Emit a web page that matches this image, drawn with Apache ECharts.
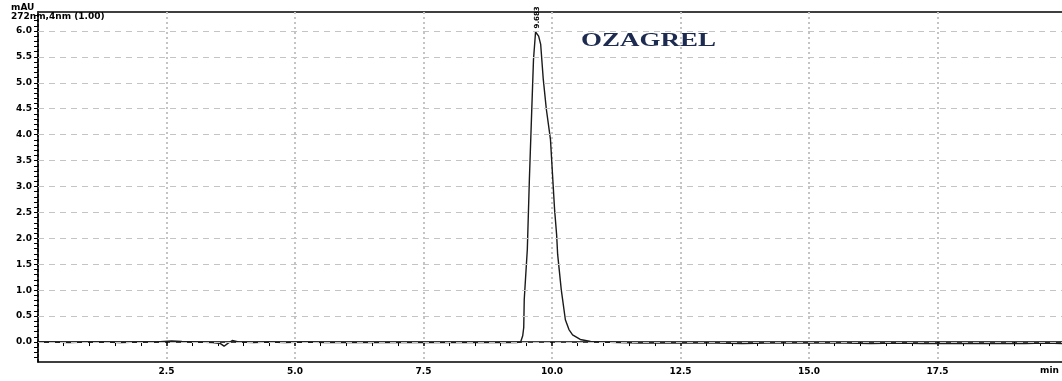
<!DOCTYPE html>
<html>
<head>
<meta charset="utf-8">
<script src="https://cdn.jsdelivr.net/npm/echarts@6/dist/echarts.min.js"></script>
<style>
  html, body { margin: 0; padding: 0; background: #fff; }
  #chart { width: 1062px; height: 381px; }
</style>
</head>
<body>
<div id="chart"></div>
<script>
// retention time (min) and absorbance (mAU)
var times = [0, 0.3, 0.6, 1.0, 1.3, 1.6, 2.0, 2.3, 2.6, 2.8, 3.1, 3.4, 3.55, 3.62, 3.7, 3.78, 3.9, 4.2, 4.5, 4.8,
  5.2, 5.6, 6.0, 6.5, 7.0, 7.5, 8.0, 8.5, 9.0, 9.3, 9.39, 9.43, 9.45, 9.46, 9.52, 9.56, 9.60, 9.64, 9.68, 9.71,
  9.74, 9.78, 9.83, 9.89, 9.97, 10.01, 10.05, 10.09, 10.11, 10.18, 10.26, 10.33, 10.40, 10.55, 10.75, 10.94,
  11.3, 11.7, 12.2, 12.7, 13.2, 13.7, 14.2, 14.7, 15.2, 15.7, 16.2, 16.7, 17.2, 17.7, 18.2, 18.7, 19.2, 19.6, 20.0]
var absorb = [0.0, 0.0, -0.01, 0.0, 0.0, -0.01, 0.0, 0.0, 0.02, 0.01, 0.0, -0.01, -0.03, -0.08, -0.02, 0.03, 0.0, -0.01, 0.0, -0.01,
  0.0, -0.01, -0.01, -0.01, -0.01, -0.01, -0.01, -0.01, -0.01, -0.01, 0.0, 0.12, 0.28, 0.82, 1.79, 3.14, 4.30, 5.45, 5.98, 6.0,
  5.9, 5.74, 5.07, 4.49, 3.91, 3.23, 2.56, 2.07, 1.69, 1.01, 0.43, 0.24, 0.14, 0.05, 0.01, 0.0,
  -0.01, -0.02, -0.02, -0.02, -0.02, -0.03, -0.02, -0.02, -0.02, -0.02, -0.03, -0.02, -0.03, -0.03, -0.03, -0.03, -0.03, -0.02, -0.03]
var peakLabel = '9.683'
var yTicks = [0.0, 0.5, 1.0, 1.5, 2.0, 2.5, 3.0, 3.5, 4.0, 4.5, 5.0, 5.5, 6.0]
var yMinorTicks = []
for (var i = -3; i <= 63; i++) yMinorTicks.push(i / 10)

var chart = echarts.init(document.getElementById('chart'))

var peakIdx = absorb.indexOf(Math.max.apply(null, absorb))
var traceData = times.map(function (t, i) { return [t, absorb[i]] })

var tickFont = { fontFamily: 'DejaVu Sans', fontWeight: 'bold', fontSize: 9, color: '#000' }

var option = {
  animation: false,
  grid: {
    left: 38, width: 1028, top: 12, bottom: 19,
    outerBoundsMode: 'none',
    show: true, borderColor: '#000', borderWidth: 1.5, backgroundColor: 'transparent'
  },
  xAxis: {
    type: 'value', min: 0, max: 20, interval: 2.5,
    axisLine: { lineStyle: { color: '#000', width: 1.5 } },
    axisTick: { show: true, length: 4, lineStyle: { color: '#000', width: 1.5 } },
    minorTick: { show: true, splitNumber: 5, length: 4, lineStyle: { color: '#000', width: 1 } },
    axisLabel: Object.assign({
      margin: 5,
      formatter: function (v) { return (v === 0 || v === 20) ? '' : v.toFixed(1) }
    }, tickFont),
    splitLine: { show: true, lineStyle: { color: '#c4c4c4', type: [2, 3], width: 2 } }
  },
  yAxis: {
    type: 'value', min: -0.385, max: 6.366,
    axisLine: { show: true, lineStyle: { color: '#000', width: 1.5 } },
    axisTick: { show: true, length: 4, customValues: yMinorTicks, lineStyle: { color: '#000', width: 1 } },
    axisLabel: Object.assign({
      margin: 6, customValues: yTicks,
      formatter: function (v) { return v.toFixed(1) }
    }, tickFont),
    splitLine: { show: false }
  },
  graphic: [
    { type: 'text', left: 11, top: 3, style: { text: 'mAU', font: 'bold 9px "DejaVu Sans"', fill: '#000' } },
    { type: 'text', left: 11, top: 12, style: { text: '272nm,4nm (1.00)', font: 'bold 9px "DejaVu Sans"', fill: '#000' } },
    { type: 'text', left: 1040, top: 366, style: { text: 'min', font: 'bold 9px "DejaVu Sans"', fill: '#000' } },
    {
      type: 'text', x: 581, y: 32, scaleX: 1.42,
      style: { text: 'OZAGREL', font: 'bold 19px "Liberation Serif"', fill: '#1c2b4f' }
    }
  ],
  series: [
    {
      type: 'line', data: [], z: 1, silent: true,
      markLine: {
        silent: true, symbol: 'none', animation: false,
        label: { show: false },
        lineStyle: { color: '#c4c4c4', type: [6, 5], width: 1 },
        data: yTicks.map(function (v) { return { yAxis: v } })
      }
    },
    {
      type: 'line', data: traceData, z: 3,
      showSymbol: false, symbol: 'none',
      lineStyle: { color: '#1a1a1a', width: 1.4 },
      markPoint: {
        symbol: 'circle', symbolSize: 1, silent: true,
        itemStyle: { color: 'transparent' },
        label: {
          show: true, formatter: peakLabel, rotate: 90, position: 'top', distance: 2,
          align: 'left', verticalAlign: 'middle',
          fontFamily: 'DejaVu Sans', fontWeight: 'bold', fontSize: 7, color: '#000'
        },
        data: [{ coord: [times[peakIdx], absorb[peakIdx]] }]
      }
    }
  ]
}
chart.setOption(option)
</script>
</body>
</html>
